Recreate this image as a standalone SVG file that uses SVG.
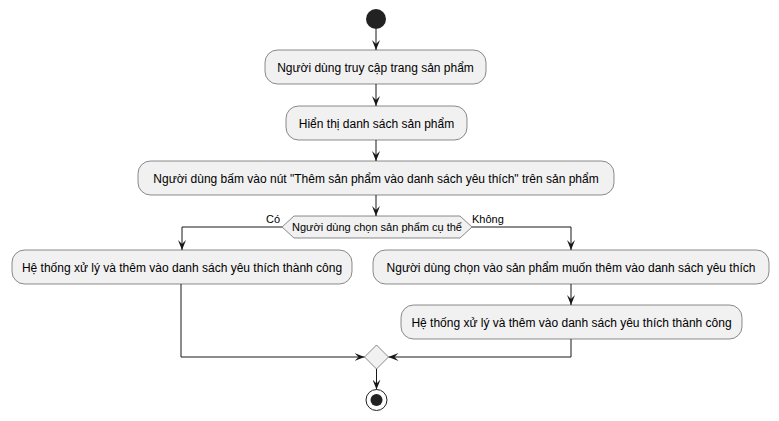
<svg xmlns="http://www.w3.org/2000/svg" width="779" height="421" viewBox="0 0 779 421">
<style>
.box{fill:#F1F1F1;stroke:#181818;stroke-width:0.5}
.t{font-family:"Liberation Sans",Arial,sans-serif;font-size:12px;fill:#000;text-anchor:middle}
.s{font-family:"Liberation Sans",Arial,sans-serif;font-size:11px;fill:#000}
.c{fill:none;stroke:#181818;stroke-width:1}
</style>
<defs>
<marker id="ah" viewBox="0 0 10 8" refX="10" refY="4" markerWidth="10" markerHeight="8" markerUnits="userSpaceOnUse" orient="auto">
<path d="M0,0 L10,4 L0,8 L4,4 Z" fill="#181818"/>
</marker>
</defs>
<rect width="779" height="421" fill="#FFFFFF"/>
<g id="start"><circle cx="376" cy="19" r="10" fill="#222222"/></g>
<g id="n1"><rect class="box" x="265" y="50" width="221" height="34" rx="12.5"/><text class="t" x="375.5" y="71.5">Người dùng truy cập trang sản phẩm</text></g>
<g id="n2"><rect class="box" x="286" y="106" width="181" height="34" rx="12.5"/><text class="t" x="376.5" y="127.5">Hiển thị danh sách sản phẩm</text></g>
<g id="n3"><rect class="box" x="138" y="161" width="476" height="34" rx="12.5"/><text class="t" x="376" y="182.5">Người dùng bấm vào nút "Thêm sản phẩm vào danh sách yêu thích" trên sản phẩm</text></g>
<g id="d1"><polygon class="box" points="282,227 294,216 460,216 472,227 460,238 294,238"/><text class="s" x="377" y="231" text-anchor="middle">Người dùng chọn sản phẩm cụ thể</text></g>
<g id="n4"><rect class="box" x="12" y="250" width="340" height="34" rx="12.5"/><text class="t" x="182" y="271.5">Hệ thống xử lý và thêm vào danh sách yêu thích thành công</text></g>
<g id="n5"><rect class="box" x="373" y="250" width="396" height="34" rx="12.5"/><text class="t" x="571" y="271.5">Người dùng chọn vào sản phẩm muốn thêm vào danh sách yêu thích</text></g>
<g id="n6"><rect class="box" x="401" y="305" width="341" height="34" rx="12.5"/><text class="t" x="571.5" y="326.5">Hệ thống xử lý và thêm vào danh sách yêu thích thành công</text></g>
<g id="merge"><polygon class="box" points="376.5,345 388.5,357 376.5,369 364.5,357"/></g>
<g id="end"><circle cx="376.5" cy="400" r="10.5" fill="none" stroke="#222222" stroke-width="1"/><circle cx="376.5" cy="400" r="6" fill="#222222"/></g>
<g id="connectors">
<path class="c" marker-end="url(#ah)" d="M376,29 V50"/>
<path class="c" marker-end="url(#ah)" d="M376,84 V106"/>
<path class="c" marker-end="url(#ah)" d="M376,140 V161"/>
<path class="c" marker-end="url(#ah)" d="M376,195 V216"/>
<path class="c" marker-end="url(#ah)" d="M282,227 H182 V250"/>
<path class="c" marker-end="url(#ah)" d="M472,227 H571 V250"/>
<path class="c" marker-end="url(#ah)" d="M571,284 V305"/>
<path class="c" marker-end="url(#ah)" d="M181,284 V357 H364.5"/>
<path class="c" marker-end="url(#ah)" d="M571,339 V357 H388.5"/>
<path class="c" marker-end="url(#ah)" d="M376.5,369 V389.5"/>
<text class="s" x="266" y="223">Có</text>
<text class="s" x="472" y="223">Không</text>
</g>
</svg>
